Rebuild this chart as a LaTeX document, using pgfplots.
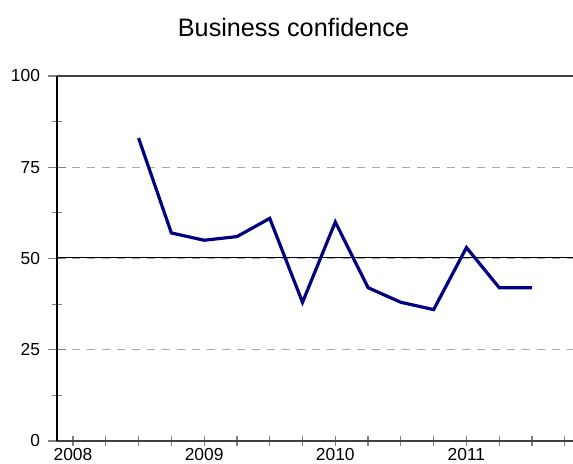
\documentclass[border=0pt]{standalone}
\usepackage{fontspec}
\setmainfont{Liberation Sans}
\usepackage{pgfplots}
\pgfplotsset{compat=1.18}
\definecolor{navyline}{HTML}{000080}
\definecolor{gridgray}{HTML}{AAAAAA}
\definecolor{tickgray}{HTML}{808080}
\begin{document}
\begin{tikzpicture}
\begin{axis}[
  at={(57bp,23bp)}, anchor=south west,
  scale only axis,
  width=516bp, height=365bp,
  xmin=-0.488, xmax=15.25,
  ymin=0, ymax=100,
  axis lines*=left,
  axis line style={line width=1.2bp},
  x axis line style={color=black!75},
  y axis line style={color=black},
  xtick={0,4,8,12},
  xticklabels={2008,2009,2010,2011},
  minor xtick={0,...,15},
  major x tick style={draw=none},
  ytick={0,25,50,75,100},
  minor y tick num=1,
  tick align=center,
  tick style={tickgray, line width=1.2bp},
  major tick length=17bp,
  minor tick length=9.5bp,
  ymajorgrids,
  major grid style={gridgray, line width=1.3bp, dash pattern=on 8bp off 7bp},
  tick label style={font=\fontsize{17.4bp}{20bp}\selectfont, text=black},
  /pgf/number format/assume math mode=true,
  xticklabel style={yshift=5bp},
  yticklabel style={xshift=-5bp},
  clip=false,
]
\draw[black, line width=1.2bp] (axis cs:-0.488,50.3) -- (axis cs:15.25,50.3);
\draw[black!75, line width=1.2bp] (axis cs:-0.488,100) -- (axis cs:15.25,100);
\addplot[navyline, line width=3.2bp, line join=miter] coordinates {
(2,83) (3,57) (4,55) (5,56) (6,61) (7,38) (8,60)
(9,42) (10,38) (11,36) (12,53) (13,42) (14,42)
};
\end{axis}
\node[anchor=base, font=\fontsize{25.2bp}{28bp}\selectfont] at (293.5bp,427bp) {Business confidence};
\pgfresetboundingbox
\path[use as bounding box] (0,0) rectangle (573bp,464bp);
\end{tikzpicture}
\end{document}
